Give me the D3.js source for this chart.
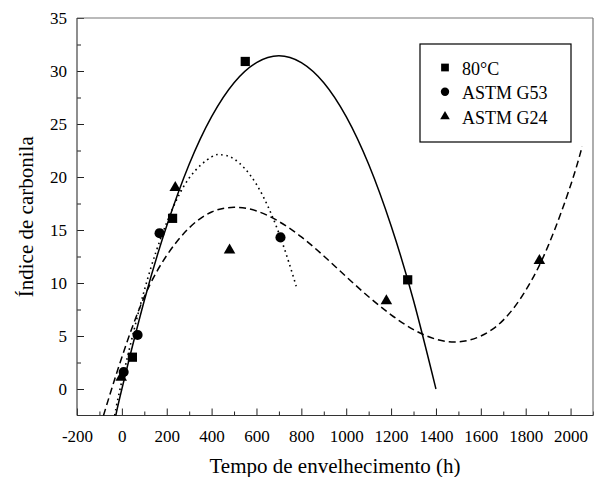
<!DOCTYPE html>
<html>
<head>
<meta charset="utf-8">
<script src="https://cdn.jsdelivr.net/npm/d3@7"></script>
<style>
  html, body { margin: 0; padding: 0; background: #fff; }
  svg { display: block; }
  text { font-family: "Liberation Serif", "Times New Roman", serif; fill: #000; }
</style>
</head>
<body>
<svg id="chart" width="601" height="477"></svg>
<script>
// ---- data ----
const seriesNames = ["80°C", "ASTM G53", "ASTM G24"];

const pts80 = [[47, 3.0], [226, 16.1], [550, 30.9], [1274, 10.3]];
const ptsG53 = [[8, 1.6], [70, 5.1], [168, 14.7], [707, 14.3]];
const ptsG24 = [[-3, 1.1], [238, 19.0], [480, 13.1], [1179, 8.3], [1861, 12.1]];

// fitted curves
const fit80 = [[-27, -2.5], [0, 0], [100, 8.35], [200, 15.4], [300, 21.2], [400, 25.7], [500, 28.9],
  [600, 30.8], [700, 31.45], [800, 30.8], [900, 28.9], [1000, 25.7], [1100, 21.2], [1200, 15.4],
  [1300, 8.35], [1400, 0]];
const fitG53 = [[-32, -2.5], [0, 0.75], [100, 9.3], [200, 15.7], [300, 19.9], [400, 21.9], [441, 22.1],
  [500, 21.7], [600, 19.3], [700, 14.7], [777, 9.7]];
const fitG24 = [[-82, -2.5], [0, 3.0], [100, 8.7], [200, 12.6], [300, 15.2], [400, 16.7], [500, 17.14],
  [600, 16.8], [700, 15.8], [800, 14.35], [900, 12.55], [1000, 10.6], [1100, 8.7], [1200, 7.0],
  [1300, 5.6], [1400, 4.7], [1500, 4.45], [1600, 5.0], [1700, 6.5], [1800, 9.3], [1900, 13.5],
  [2000, 19.2], [2052, 22.9]];

const xMajorTicks = [-200, 0, 200, 400, 600, 800, 1000, 1200, 1400, 1600, 1800, 2000];
const xMinorTicks = [-100, 100, 300, 500, 700, 900, 1100, 1300, 1500, 1700, 1900, 2100];
const yMajorTicks = [0, 5, 10, 15, 20, 25, 30, 35];
const yMinorTicks = [2.5, 7.5, 12.5, 17.5, 22.5, 27.5, 32.5];

const xTitle = "Tempo de envelhecimento (h)";
const yTitle = "Índice de carbonila";

// ---- layout ----
const L = 77, R = 593, T = 18, B = 415.5;
const svg = d3.select("#chart");
const x = d3.scaleLinear().domain([-200, 2100]).range([L, R]);
const y = d3.scaleLinear().domain([-2.5, 35]).range([B, T]);
const plain = d => String(d);

// axes (inward ticks)
const gx = svg.append("g").attr("transform", `translate(0,${B})`)
  .call(d3.axisBottom(x).tickValues(xMajorTicks).tickSize(-7).tickPadding(14).tickFormat(plain));
const gxm = svg.append("g").attr("transform", `translate(0,${B})`)
  .call(d3.axisBottom(x).tickValues(xMinorTicks).tickSize(-4).tickFormat(""));
const gy = svg.append("g").attr("transform", `translate(${L},0)`)
  .call(d3.axisLeft(y).tickValues(yMajorTicks).tickSize(-7).tickPadding(10).tickFormat(plain));
const gym = svg.append("g").attr("transform", `translate(${L},0)`)
  .call(d3.axisLeft(y).tickValues(yMinorTicks).tickSize(-4).tickFormat(""));
[gx, gxm, gy, gym].forEach(g => {
  g.attr("font-family", null).attr("font-size", null);
  g.select(".domain").remove();
  g.selectAll(".tick line").attr("stroke", "#222").attr("stroke-width", 1);
  g.selectAll(".tick text").style("font-size", "17px").style("font-family", "'Liberation Serif', serif").attr("fill", "#000");
});

// frame
svg.append("line").attr("x1", L).attr("x2", R).attr("y1", T).attr("y2", T).attr("stroke", "#777").attr("stroke-width", 1.2);
svg.append("line").attr("x1", R).attr("x2", R).attr("y1", T).attr("y2", B).attr("stroke", "#777").attr("stroke-width", 1.2);
svg.append("line").attr("x1", L).attr("x2", L).attr("y1", T).attr("y2", B).attr("stroke", "#444").attr("stroke-width", 1.2);
svg.append("line").attr("x1", L).attr("x2", R).attr("y1", B).attr("y2", B).attr("stroke", "#333").attr("stroke-width", 1.2);

// curves
const line = d3.line().x(d => x(d[0])).y(d => y(d[1])).curve(d3.curveNatural);
svg.append("path").datum(fit80).attr("d", line).attr("fill", "none").attr("stroke", "#000").attr("stroke-width", 1.5);
svg.append("path").datum(fitG53).attr("d", line).attr("fill", "none").attr("stroke", "#000").attr("stroke-width", 1.6)
  .attr("stroke-dasharray", "1.6,3.6");
svg.append("path").datum(fitG24).attr("d", line).attr("fill", "none").attr("stroke", "#000").attr("stroke-width", 1.5)
  .attr("stroke-dasharray", "7,4");

// markers
const symSquare = d3.symbol().type(d3.symbolSquare).size(85);
const symCircle = d3.symbol().type(d3.symbolCircle).size(80);
const symTri = d3.symbol().type(d3.symbolTriangle).size(58);
function drawPts(data, sym) {
  svg.append("g").selectAll("path").data(data).join("path")
    .attr("d", sym).attr("transform", d => `translate(${x(d[0])},${y(d[1])})`).attr("fill", "#000");
}
drawPts(ptsG24, symTri);
drawPts(ptsG53, symCircle);
drawPts(pts80, symSquare);

// legend
const lg = svg.append("g");
lg.append("rect").attr("x", 420).attr("y", 44).attr("width", 151).attr("height", 98)
  .attr("fill", "#fff").attr("stroke", "#000").attr("stroke-width", 1.2);
const legSyms = [d3.symbol().type(d3.symbolSquare).size(60), d3.symbol().type(d3.symbolCircle).size(55), d3.symbol().type(d3.symbolTriangle).size(40)];
const legY = [75, 99.3, 124];
seriesNames.forEach((n, i) => {
  lg.append("path").attr("d", legSyms[i]()).attr("transform", `translate(445,${legY[i] - 7.5})`).attr("fill", "#000");
  lg.append("text").attr("x", 462).attr("y", legY[i]).style("font-size", "18px").text(n);
});

// titles
svg.append("text").attr("x", (L + R) / 2).attr("y", 473).attr("text-anchor", "middle").style("font-size", "21px").text(xTitle);
svg.append("text").attr("transform", `translate(33,${(T + B) / 2}) rotate(-90)`).attr("text-anchor", "middle")
  .style("font-size", "21px").text(yTitle);
</script>
</body>
</html>
